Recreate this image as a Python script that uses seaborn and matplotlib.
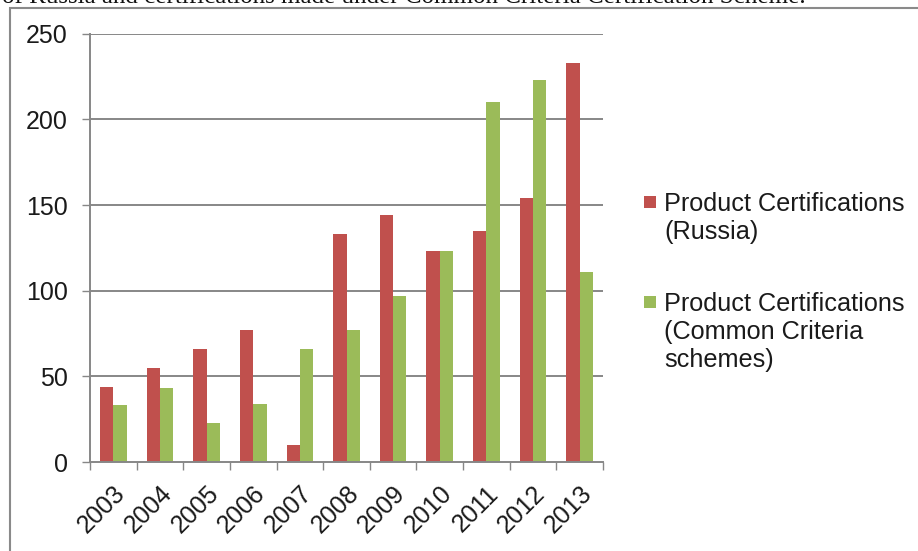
import matplotlib
matplotlib.use("Agg")
import matplotlib.pyplot as plt
from matplotlib.patches import Rectangle
import seaborn as sns
import pandas as pd

# Yearly counts of product certifications
years = ["2003", "2004", "2005", "2006", "2007", "2008", "2009", "2010", "2011", "2012", "2013"]
russia = [44, 55, 66, 77, 10, 133, 144, 123, 135, 154, 233]
common_criteria = [33, 43, 23, 34, 66, 77, 97, 123, 210, 223, 111]

series_names = ["Product Certifications\n(Russia)",
                "Product Certifications\n(Common Criteria\nschemes)"]
series_colors = ["#C0504D", "#9BBB59"]
y_ticks = [0, 50, 100, 150, 200, 250]
caption = "of Russia and certifications made under Common Criteria Certification Scheme."

df = pd.DataFrame({
    "year": years * 2,
    "count": russia + common_criteria,
    "series": [series_names[0]] * len(years) + [series_names[1]] * len(years),
})

sns.set_theme(style="white")
plt.rcParams["font.family"] = ["Liberation Sans", "DejaVu Sans"]

W, H = 918, 551
fig = plt.figure(figsize=(W / 100, H / 100), dpi=100)
ax = fig.add_axes([90 / W, 1 - 462 / H, (603 - 90) / W, (462 - 33.7) / H])

sns.barplot(data=df, x="year", y="count", hue="series", hue_order=series_names,
            palette=series_colors, saturation=1, width=0.57, linewidth=0,
            legend=False, ax=ax)

grid_color = "#878787"
ax.set_xlim(-0.5, len(years) - 0.5)
ax.set_ylim(0, 250)
ax.set_yticks(y_ticks)
ax.set_yticklabels([str(v) for v in y_ticks])
ax.set_xlabel("")
ax.set_ylabel("")
for v in y_ticks[1:]:
    ax.axhline(v, color=grid_color, lw=1.4, zorder=0)

for side in ["top", "right"]:
    ax.spines[side].set_visible(False)
for side in ["left", "bottom"]:
    ax.spines[side].set_color(grid_color)
    ax.spines[side].set_linewidth(1.4)

text_color = "#1a1a1a"
tick_font = 18
ax.tick_params(axis="y", which="major", length=6, width=1.0, color=grid_color,
               pad=10, labelsize=tick_font, labelcolor=text_color, left=True)
# category labels at centers, tick marks between categories
ax.set_xticks(range(len(years)))
ax.set_xticklabels(years, rotation=45, ha="right", rotation_mode="anchor")
ax.set_xticks([i - 0.5 for i in range(len(years) + 1)], minor=True)
ax.tick_params(axis="x", which="major", length=0, pad=14, labelsize=tick_font,
               labelcolor=text_color)
ax.tick_params(axis="x", which="minor", length=6, width=1.0, color=grid_color,
               bottom=True)

# legend drawn beside the plot, marker aligned with the first text line
legend_font = 18.2
entry_baselines = [211, 311]
for name, color, base in zip(series_names, series_colors, entry_baselines):
    fig.patches.append(Rectangle((644 / W, 1 - (base - 3) / H), 12 / W, 12 / H,
                                 transform=fig.transFigure, facecolor=color,
                                 edgecolor="none"))
    for k, line in enumerate(name.split("\n")):
        fig.text(664 / W, 1 - (base + 28 * k) / H, line, fontsize=legend_font,
                 color=text_color, ha="left", va="baseline")

# chart frame
fig.patches.append(Rectangle((10 / W, -0.05), 1.2, (1 - 8 / H) + 0.05,
                             transform=fig.transFigure, facecolor="none",
                             edgecolor="#8a8a8a", linewidth=1.5))

# caption line above the frame
fig.text(2 / W, 1 - 3 / H, caption, fontsize=18, family=["Liberation Serif"],
         color="#111111", ha="left", va="baseline")

fig.savefig("out.png", dpi=100)
